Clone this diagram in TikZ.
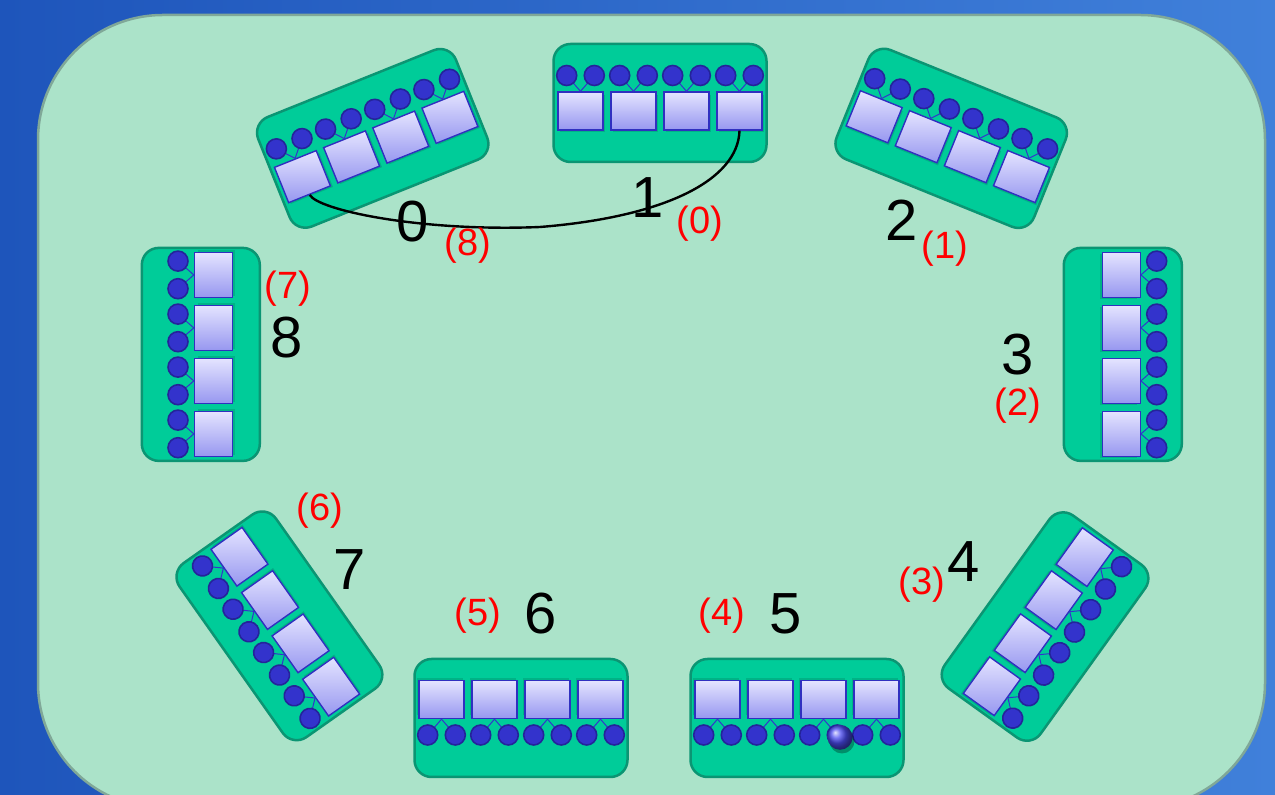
\documentclass[tikz,border=0pt]{standalone}
\usepackage{fontspec}
\setmainfont{Liberation Sans}
\definecolor{bgleft}{HTML}{1E55BB}
\definecolor{bgright}{HTML}{4080DA}
\definecolor{panelfill}{HTML}{ABE3C9}
\definecolor{paneledge}{HTML}{80A898}
\definecolor{boardfill}{HTML}{00CC99}
\definecolor{boardedge}{HTML}{0B9573}
\definecolor{celllight}{HTML}{E4E4FF}
\definecolor{celldark}{HTML}{9797F0}
\definecolor{celledge}{HTML}{3030C0}
\definecolor{portfill}{HTML}{3333CC}
\definecolor{portedge}{HTML}{24249A}
\definecolor{ballblue}{HTML}{4A4AF0}
\definecolor{rankred}{HTML}{FF0000}

% one board: name, centre of the cell row (x,y), rotation, offset of the frame
\newcommand\board[5]{%
  \begin{scope}[shift={(#2,#3)}, rotate=#4, transform shape]
    \path[boardframe] (-106.5,#5-59) rectangle (106.5,#5+59);
    \foreach \k/\cx in {1/-79.5,2/-26.5,3/26.5,4/79.5} {
      \fill[black, opacity=0.12] (\cx-21,-21) rectangle (\cx+24.5,16);
      \node[cell] (#1s\k) at (\cx,0) {};
      \coordinate (#1c\k a) at (\cx-13.8,35.5);
      \coordinate (#1c\k b) at (\cx+13.8,35.5);
      \draw[wire] (#1s\k.north) -- (#1c\k a);
      \draw[wire] (#1s\k.north) -- (#1c\k b);
      \node[port] (#1p\k a) at (#1c\k a) {};
      \node[port] (#1p\k b) at (#1c\k b) {};
    }
  \end{scope}}

\begin{document}
\begin{tikzpicture}[x=1pt,y=1pt,
  boardframe/.style={draw=boardedge, line width=2.5pt, fill=boardfill, rounded corners=17pt},
  cell/.style={draw=celledge, line width=1.4pt, minimum width=45pt, minimum height=38pt,
    inner sep=0pt, top color=celllight, bottom color=celldark},
  port/.style={circle, draw=portedge, line width=1.6pt, fill=portfill,
    minimum size=20pt, inner sep=0pt},
  wire/.style={draw=portfill, line width=1pt},
  lbl/.style={font=\fontsize{58}{60}\selectfont, text=black, inner sep=0pt},
  rank/.style={font=\fontsize{38}{40}\selectfont, text=rankred, inner sep=0pt},
  link/.style={draw=black, line width=2.4pt}]

\useasboundingbox (0,0) rectangle (1275,795);
\clip (0,0) rectangle (1275,795);

% backdrop and panel
\shade[left color=bgleft, right color=bgright] (0,0) rectangle (1275,795);
\draw[fill=panelfill, draw=paneledge, line width=2.5pt, rounded corners=125pt]
  (38,-13) rectangle (1265,780);

% the nine boards
\board{m0}{376.2}{648}{21.9}{9.3}
\board{m1}{660}{684}{0}{8}
\board{m2}{947.8}{648.3}{-22.1}{9}
\board{m3}{1121.2}{440.6}{-90}{1.6}
\board{m4}{1038.3}{173.3}{-125.7}{8.3}
\board{m5}{797}{95.5}{180}{18.5}
\board{m6}{521}{95.5}{180}{18.5}
\board{m7}{285.3}{173.3}{125.2}{7.2}
\board{m8}{213.5}{440.6}{90}{12.7}

% marker ball on board 5
\fill[black, opacity=0.3] (842,54) circle (12.5);
\node[circle, minimum size=25pt, inner sep=0pt, shading=ball, ball color=ballblue] (marker) at (840,57.7) {};

% link between boards 1 and 0
\draw[link] (m1s4.south) .. controls (738,615) and (665,578) .. (540,568)
  .. controls (420,563) and (318,585) .. (m0s1.south);

% board numbers
\node[lbl] (l0) at (413,573) {0};
\node[lbl] (l1) at (648,597) {1};
\node[lbl] (l2) at (902,575) {2};
\node[lbl] (l3) at (1018,440) {3};
\node[lbl] (l4) at (964,233) {4};
\node[lbl] (l5) at (786,181) {5};
\node[lbl] (l6) at (541,181) {6};
\node[lbl] (l7) at (350,225) {7};
\node[lbl] (l8) at (287,457) {8};

% ranks
\node[rank] (r8) at (468,549) {(8)};
\node[rank] (r0) at (700,571) {(0)};
\node[rank] (r1) at (945,546) {(1)};
\node[rank] (r2) at (1018,389) {(2)};
\node[rank] (r3) at (922,210) {(3)};
\node[rank] (r4) at (722,179) {(4)};
\node[rank] (r5) at (478,179) {(5)};
\node[rank] (r6) at (320,284) {(6)};
\node[rank] (r7) at (288,506) {(7)};
\end{tikzpicture}
\end{document}
